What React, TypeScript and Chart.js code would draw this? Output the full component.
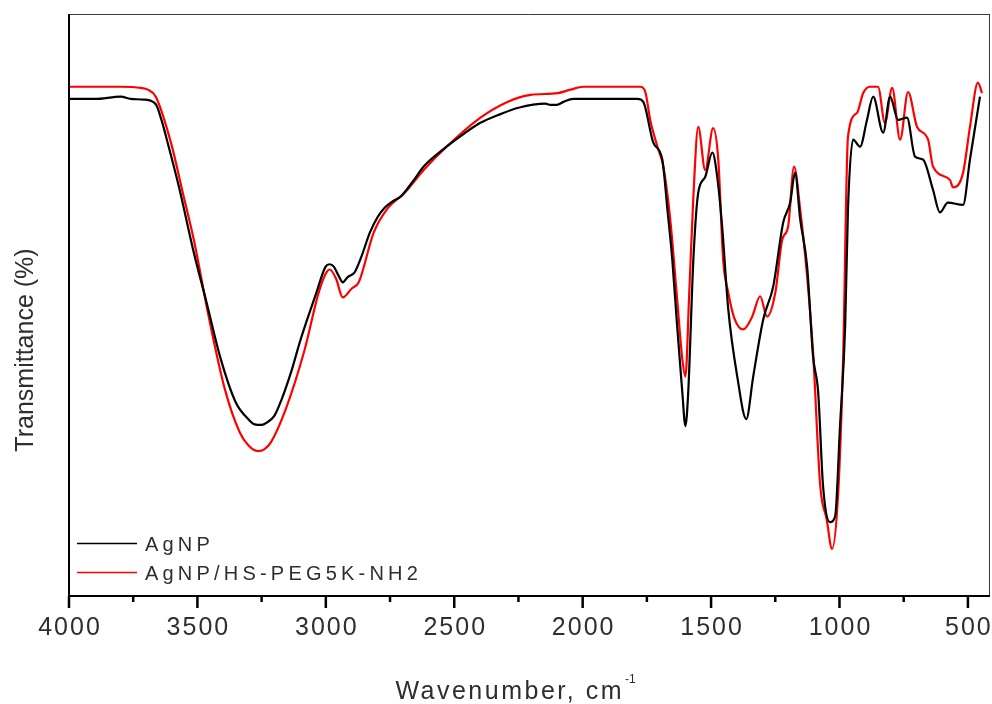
import React, { useEffect, useRef } from 'react';
import { Chart, registerables } from 'chart.js';

Chart.register(...registerables);

// AgNP spectrum (wavenumber cm-1, transmittance in arbitrary %)
const agnpWavenumbers = [
  4000, 3900, 3798, 3760, 3708, 3662, 3640, 3619, 3572, 3514,
  3467, 3409, 3351, 3300, 3277, 3250, 3230, 3200, 3172, 3135,
  3098, 3037, 3001, 2985, 2969, 2950, 2934, 2915, 2888, 2860,
  2829, 2800, 2771, 2740, 2709, 2660, 2619, 2530, 2460, 2398,
  2320, 2250, 2145, 2126, 2100, 2075, 2036, 1900, 1787, 1764,
  1725, 1690, 1670, 1651, 1632, 1612, 1600, 1589, 1569, 1550,
  1523, 1495, 1476, 1457, 1433, 1398, 1363, 1336, 1297, 1258,
  1219, 1192, 1173, 1153, 1126, 1103, 1083, 1064, 1037, 1017,
  998, 978, 967, 947, 920, 893, 869, 830, 803, 772,
  737, 706, 675, 636, 609, 578, 519, 492, 453,
];
const agnpTransmittance = [
  85.4, 85.4, 85.8, 85.4, 85.3, 84.5, 81.8, 78.4, 70.3, 59.0,
  50.9, 40.7, 33.3, 30.3, 29.5, 29.4, 29.8, 31.0, 33.8, 38.5,
  44.1, 52.1, 56.6, 57.0, 56.6, 55.0, 53.9, 54.8, 55.6, 58.5,
  62.4, 65.0, 66.7, 67.8, 68.6, 71.3, 73.8, 77.2, 79.5, 81.3,
  82.8, 83.9, 84.6, 84.4, 84.4, 84.9, 85.4, 85.4, 85.4, 84.9,
  77.9, 75.0, 66.4, 57.8, 46.3, 35.0, 29.2, 35.0, 57.8, 69.3,
  72.0, 76.2, 72.0, 63.5, 49.2, 37.7, 30.4, 37.7, 47.5, 53.2,
  64.2, 67.6, 72.7, 64.7, 56.6, 41.2, 35.0, 18.9, 12.7, 13.7,
  29.2, 46.3, 66.4, 78.4, 77.2, 81.8, 85.8, 79.6, 85.8, 81.8,
  82.2, 75.5, 75.0, 69.8, 65.9, 67.6, 67.2, 75.0, 85.8,
];

// AgNP/HS-PEG5K-NH2 spectrum
const pegWavenumbers = [
  4000, 3800, 3720, 3693, 3662, 3603, 3557, 3514, 3456, 3393,
  3335, 3300, 3265, 3240, 3214, 3156, 3082, 3024, 2985, 2960,
  2934, 2900, 2872, 2814, 2763, 2693, 2619, 2530, 2398, 2293,
  2203, 2098, 2048, 1997, 1776, 1756, 1737, 1709, 1686, 1659,
  1632, 1612, 1600, 1585, 1569, 1550, 1523, 1492, 1472, 1453,
  1433, 1410, 1375, 1340, 1309, 1282, 1250, 1223, 1200, 1177,
  1153, 1126, 1103, 1075, 1050, 1029, 1005, 986, 967, 932,
  908, 881, 850, 823, 795, 764, 733, 698, 655, 636,
  570, 558, 519, 492, 461, 445,
];
const pegTransmittance = [
  87.5, 87.5, 87.3, 87.0, 85.8, 77.9, 69.3, 61.2, 48.0, 35.5,
  28.1, 25.8, 24.9, 25.2, 26.4, 32.1, 42.4, 52.7, 56.1, 54.5,
  51.3, 52.8, 53.9, 62.4, 66.4, 69.3, 73.2, 77.2, 82.2, 84.9,
  86.1, 86.4, 87.0, 87.5, 87.5, 86.6, 81.8, 77.2, 73.8, 64.7,
  50.9, 40.7, 37.7, 52.1, 68.6, 80.6, 73.2, 80.4, 75.0, 57.8,
  52.1, 47.8, 45.8, 48.0, 51.5, 48.0, 52.1, 61.2, 63.5, 73.8,
  66.4, 54.9, 41.9, 18.9, 13.2, 8.1, 17.8, 40.7, 78.9, 83.0,
  86.4, 87.5, 87.5, 81.3, 87.3, 78.4, 86.6, 80.6, 78.4, 73.8,
  71.5, 70.2, 72.7, 80.6, 88.2, 86.4,
];

const majorTicks = [4000, 3500, 3000, 2500, 2000, 1500, 1000, 500];
const minorTicks = [3750, 3250, 2750, 2250, 1750, 1250, 750];
const seriesLabels = ['AgNP', 'AgNP/HS-PEG5K-NH2'];
const seriesColors = ['#000000', '#ff0000'];
const xTitle = 'Wavenumber, cm';
const xTitleSup = '-1';
const yTitle = 'Transmittance (%)';

const FONT = '"Liberation Sans", Arial, sans-serif';
const TEXT = '#2e2e2e';

const axesPlugin = {
  id: 'originAxes',
  afterDatasetsDraw(chart: any) {
    const { ctx, chartArea: a } = chart;
    const x = chart.scales.x;
    ctx.save();
    // thin top / right frame
    ctx.strokeStyle = '#3a3a3a';
    ctx.lineWidth = 1;
    ctx.beginPath();
    ctx.moveTo(a.left, a.top + 0.5);
    ctx.lineTo(a.right, a.top + 0.5);
    ctx.moveTo(a.right - 0.5, a.top);
    ctx.lineTo(a.right - 0.5, a.bottom);
    ctx.stroke();
    // thick left / bottom axes
    ctx.strokeStyle = '#000';
    ctx.lineWidth = 2;
    ctx.beginPath();
    ctx.moveTo(a.left, a.top);
    ctx.lineTo(a.left, a.bottom);
    ctx.lineTo(a.right, a.bottom);
    ctx.stroke();
    // ticks
    ctx.lineWidth = 2.5;
    ctx.beginPath();
    majorTicks.forEach((v) => {
      const px = x.getPixelForValue(v);
      ctx.moveTo(px, a.bottom);
      ctx.lineTo(px, a.bottom + 12);
    });
    minorTicks.forEach((v) => {
      const px = x.getPixelForValue(v);
      ctx.moveTo(px, a.bottom);
      ctx.lineTo(px, a.bottom + 6);
    });
    ctx.stroke();

    // tick labels
    ctx.fillStyle = TEXT;
    ctx.font = `25px ${FONT}`;
    ctx.textBaseline = 'alphabetic';
    ctx.textAlign = 'center';
    const sp = 2;
    (ctx as any).letterSpacing = `${sp}px`;
    majorTicks.forEach((v) => {
      const px = x.getPixelForValue(v);
      ctx.fillText(String(v), px + sp / 2, 635);
    });

    // x title with superscript
    (ctx as any).letterSpacing = '2.5px';
    ctx.textAlign = 'left';
    ctx.font = `25px ${FONT}`;
    const w1 = ctx.measureText(xTitle).width;
    ctx.font = `12px ${FONT}`;
    (ctx as any).letterSpacing = '0px';
    const w2 = ctx.measureText(xTitleSup).width;
    const start = 516 - (w1 + w2 + 2) / 2;
    (ctx as any).letterSpacing = '2.5px';
    ctx.font = `25px ${FONT}`;
    ctx.fillText(xTitle, start, 699);
    (ctx as any).letterSpacing = '0px';
    ctx.font = `12px ${FONT}`;
    ctx.fillText(xTitleSup, start + w1 + 1, 683);

    // y title
    ctx.save();
    ctx.translate(33, 350);
    ctx.rotate(-Math.PI / 2);
    ctx.textAlign = 'center';
    ctx.font = `25px ${FONT}`;
    (ctx as any).letterSpacing = '0px';
    ctx.fillText(yTitle, 0, 0);
    ctx.restore();

    // legend
    const rows = [543, 572];
    seriesLabels.forEach((label, i) => {
      const y = rows[i];
      ctx.strokeStyle = seriesColors[i];
      ctx.lineWidth = 1.3;
      ctx.beginPath();
      ctx.moveTo(77, y + 0.5);
      ctx.lineTo(137, y + 0.5);
      ctx.stroke();
      ctx.fillStyle = TEXT;
      ctx.font = `20px ${FONT}`;
      ctx.textAlign = 'left';
      (ctx as any).letterSpacing = '4.2px';
      ctx.fillText(label, 145, y + 8);
    });
    ctx.restore();
  },
};

export default function App() {
  const ref = useRef<HTMLCanvasElement | null>(null);
  useEffect(() => {
    document.body.style.margin = '0';
    const canvas = ref.current;
    if (!canvas) return;
    const toPoints = (xs: number[], ys: number[]) => xs.map((v, i) => ({ x: v, y: ys[i] }));
    const chart = new Chart(canvas, {
      type: 'line',
      data: {
        datasets: [
          {
            label: seriesLabels[0],
            data: toPoints(agnpWavenumbers, agnpTransmittance),
            borderColor: seriesColors[0],
            borderWidth: 2.2,
            pointRadius: 0,
            cubicInterpolationMode: 'monotone',
            fill: false,
          },
          {
            label: seriesLabels[1],
            data: toPoints(pegWavenumbers, pegTransmittance),
            borderColor: seriesColors[1],
            borderWidth: 2.2,
            pointRadius: 0,
            cubicInterpolationMode: 'monotone',
            fill: false,
          },
        ],
      },
      options: {
        responsive: false,
        animation: false,
        devicePixelRatio: 1,
        layout: { padding: { left: 69, top: 14, right: 2, bottom: 108 } },
        plugins: { legend: { display: false }, tooltip: { enabled: false } },
        scales: {
          x: { type: 'linear', reverse: true, min: 414, max: 4000, display: false },
          y: { type: 'linear', min: 0, max: 100, display: false },
        },
      },
      plugins: [axesPlugin],
    });
    return () => chart.destroy();
  }, []);
  return (
    <div style={{ position: 'absolute', left: 0, top: 0, width: 992, height: 704, background: '#fff' }}>
      <canvas ref={ref} width={992} height={704} style={{ display: 'block' }} />
    </div>
  );
}
